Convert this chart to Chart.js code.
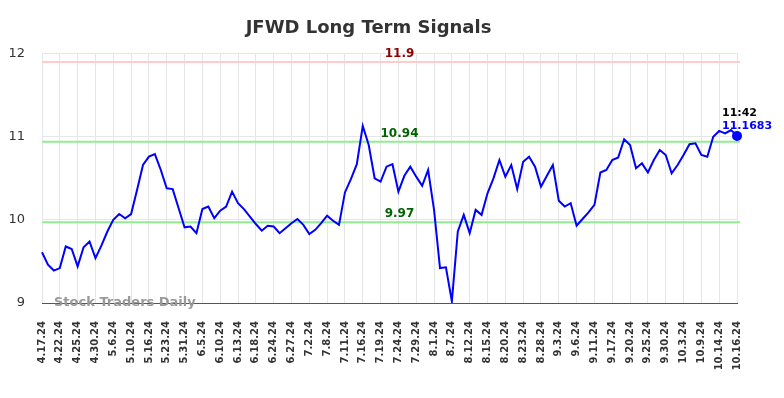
<!DOCTYPE html>
<html>
<head>
<meta charset="utf-8">
<script src="https://cdn.jsdelivr.net/npm/chart.js@4.4.1/dist/chart.umd.min.js"></script>
<style>
  body { margin: 0; background: #fff; }
</style>
</head>
<body>
<canvas id="chart" width="784" height="398"></canvas>
<script>
// tick labels, one every third trading day
const tickDates = [
  "4.17.24", "4.22.24", "4.25.24", "4.30.24", "5.6.24", "5.10.24", "5.16.24", "5.23.24",
  "5.31.24", "6.5.24", "6.10.24", "6.13.24", "6.18.24", "6.24.24", "6.27.24", "7.2.24",
  "7.8.24", "7.11.24", "7.16.24", "7.19.24", "7.24.24", "7.29.24", "8.1.24", "8.7.24",
  "8.12.24", "8.15.24", "8.20.24", "8.23.24", "8.28.24", "9.3.24", "9.6.24", "9.11.24",
  "9.17.24", "9.20.24", "9.25.24", "9.30.24", "10.3.24", "10.9.24", "10.14.24", "10.16.24"
];
const ticksEvery = 3;

// daily closes
const prices = [
  9.61, 9.46, 9.39, 9.42, 9.68, 9.65, 9.44, 9.67, 9.74, 9.54,
  9.69, 9.86, 10.0, 10.07, 10.02, 10.07, 10.36, 10.66, 10.76, 10.79,
  10.60, 10.38, 10.37, 10.14, 9.91, 9.92, 9.84, 10.13, 10.16, 10.02,
  10.11, 10.16, 10.34, 10.20, 10.13, 10.04, 9.95, 9.87, 9.93, 9.92,
  9.84, 9.90, 9.96, 10.01, 9.94, 9.83, 9.88, 9.96, 10.05, 9.99,
  9.94, 10.33, 10.49, 10.67, 11.13, 10.90, 10.50, 10.46, 10.64, 10.67,
  10.34, 10.53, 10.64, 10.52, 10.41, 10.60, 10.12, 9.42, 9.43, 9.02,
  9.86, 10.06, 9.84, 10.12, 10.06, 10.32, 10.50, 10.72, 10.52, 10.66,
  10.37, 10.70, 10.76, 10.64, 10.40, 10.53, 10.66, 10.23, 10.16, 10.20,
  9.93, 10.01, 10.09, 10.18, 10.57, 10.60, 10.72, 10.75, 10.97, 10.90,
  10.62, 10.68, 10.57, 10.72, 10.84, 10.78, 10.56, 10.66, 10.78, 10.91,
  10.92, 10.78, 10.76, 11.00, 11.07, 11.04, 11.08, 11.01
];

// signal levels
const levelValues = [11.9, 10.94, 9.97];
const levelLabels = ["11.9", "10.94", "9.97"];
const levelLineColors = ["#ffcccc", "#90ee90", "#90ee90"];
const levelTextColors = ["#8b0000", "#006400", "#006400"];

const lastTime = "11:42";
const lastPrice = "11.1683";

const categories = prices.map((p, i) => i);

const signalPlugin = {
  id: "signals",
  beforeDatasetsDraw(chart) {
    const ctx = chart.ctx;
    const area = chart.chartArea;
    const y = chart.scales.y;
    ctx.save();
    ctx.lineWidth = 2;
    levelValues.forEach((v, i) => {
      const py = y.getPixelForValue(v);
      ctx.strokeStyle = levelLineColors[i];
      ctx.beginPath();
      ctx.moveTo(area.left, py);
      ctx.lineTo(area.right + 3, py);
      ctx.stroke();
    });
    ctx.restore();
  },
  afterDatasetsDraw(chart) {
    const ctx = chart.ctx;
    const area = chart.chartArea;
    const y = chart.scales.y;
    ctx.save();
    ctx.font = "bold 12px 'DejaVu Sans'";
    ctx.textAlign = "center";
    ctx.textBaseline = "bottom";
    const cx = (area.left + area.right) / 2 + 10;
    levelValues.forEach((v, i) => {
      ctx.fillStyle = levelTextColors[i];
      ctx.fillText(levelLabels[i], cx, y.getPixelForValue(v) - 2);
    });

    // last price annotation
    const meta = chart.getDatasetMeta(0);
    const pt = meta.data[meta.data.length - 1];
    ctx.font = "bold 11px 'DejaVu Sans'";
    ctx.textAlign = "left";
    ctx.textBaseline = "middle";
    ctx.fillStyle = "#000";
    ctx.fillText(lastTime, pt.x - 15, pt.y - 23);
    ctx.fillStyle = "#0000ff";
    ctx.fillText(lastPrice, pt.x - 15, pt.y - 10);

    // watermark
    ctx.font = "bold 13px 'DejaVu Sans'";
    ctx.fillStyle = "#999";
    ctx.textBaseline = "middle";
    ctx.fillText("Stock Traders Daily", area.left + 12, area.bottom);
    ctx.restore();
  }
};

new Chart(document.getElementById("chart"), {
  type: "line",
  data: {
    labels: categories,
    datasets: [
      {
        data: prices,
        borderColor: "#0000ff",
        borderWidth: 2,
        tension: 0,
        pointRadius: (c) => (c.dataIndex === prices.length - 1 ? 4 : 0),
        pointBackgroundColor: "#0000ff",
        pointBorderColor: "#0000ff",
      },
    ],
  },
  options: {
    responsive: false,
    animation: false,
    layout: { padding: { left: 0, right: 47, top: 0, bottom: 0 } },
    plugins: {
      legend: { display: false },
      tooltip: { enabled: false },
      title: {
        display: true,
        text: "JFWD Long Term Signals",
        color: "#333",
        font: { family: "DejaVu Sans", size: 18, weight: "bold" },
        padding: { top: 17.5, bottom: 14.5 },
      },
    },
    scales: {
      x: {
        grid: { color: "#e6e6e6", drawTicks: false },
        border: { color: "#555", width: 1 },
        afterFit: (scale) => { scale.height = 95; },
        ticks: {
          autoSkip: false,
          maxRotation: 90,
          minRotation: 90,
          padding: 18,
          color: "#333",
          font: { family: "DejaVu Sans", size: 10, weight: "bold" },
          callback: (value, index) => (index % ticksEvery === 0 ? tickDates[index / ticksEvery] : null),
        },
      },
      y: {
        min: 9,
        max: 12,
        grid: { color: "#e6e6e6", drawTicks: false },
        border: { display: false },
        afterFit: (scale) => { scale.width = 42; },
        ticks: {
          stepSize: 1,
          padding: 17,
          color: "#333",
          font: { family: "DejaVu Sans", size: 13 },
        },
      },
    },
  },
  plugins: [signalPlugin],
});
</script>
</body>
</html>
